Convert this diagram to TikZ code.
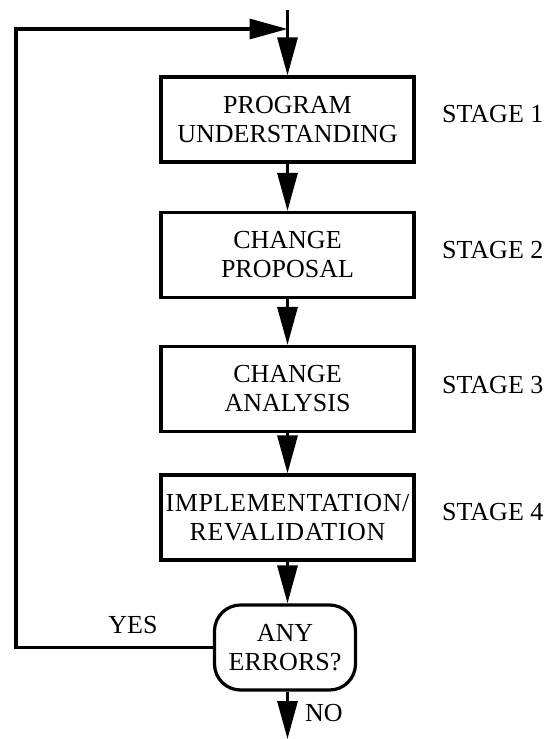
\documentclass[tikz,border=0pt]{standalone}
\usepackage{fontspec}
\setmainfont{Liberation Serif}
\usetikzlibrary{arrows.meta}
\begin{document}
\begin{tikzpicture}[x=1pt,y=-1pt,
  box/.style={draw, line width=3.2pt, minimum width=253pt, minimum height=85pt, inner sep=0pt, align=center, font=\fontsize{26}{29}\selectfont},
  decbox/.style={box, rounded corners=26pt, minimum width=141pt},
  lbl/.style={font=\fontsize{26}{29}\selectfont, inner sep=0pt},
  conn/.style={line width=3.2pt, -{Triangle[length=38pt,width=20pt]}}
]
\useasboundingbox (0,0) rectangle (550,739);
\node[box] (b1) at (287.5,119.5) {PROGRAM\\UNDERSTANDING};
\node[box] (b2) at (287.5,255) {CHANGE\\PROPOSAL};
\node[box] (b3) at (287.5,389) {CHANGE\\ANALYSIS};
\node[box] (b4) at (287.5,517.5) {\addfontfeatures{LetterSpace=2.5}IMPLEMENTATION/\\\addfontfeatures{LetterSpace=2.5}REVALIDATION};
\node[decbox] (d) at (285,647.5) {ANY\\ERRORS?};
\node[lbl, anchor=west] (s1) at (442,114) {STAGE 1};
\node[lbl, anchor=west] (s2) at (442,250) {STAGE 2};
\node[lbl, anchor=west] (s3) at (442,385) {STAGE 3};
\node[lbl, anchor=west] (s4) at (442,512) {STAGE 4};
\node[lbl] (yes) at (133,625) {YES};
\node[lbl] (no) at (324,713) {NO};
\coordinate (top) at (287.5,10);
\coordinate (tl) at (16,29);
\coordinate (out) at (287.5,739);
\draw[conn] (top) -- (b1.north);
\draw[conn] (b1.south) -- (b2.north);
\draw[conn] (b2.south) -- (b3.north);
\draw[conn] (b3.south) -- (b4.north);
\draw[conn] (b4.south) -- (b4.south |- d.north);
\draw[conn] (b4.south |- d.south) -- (out);
\draw[conn] (d.west) -- (d.west -| tl) -- (tl) -- (tl -| b1.north);
\end{tikzpicture}
\end{document}
